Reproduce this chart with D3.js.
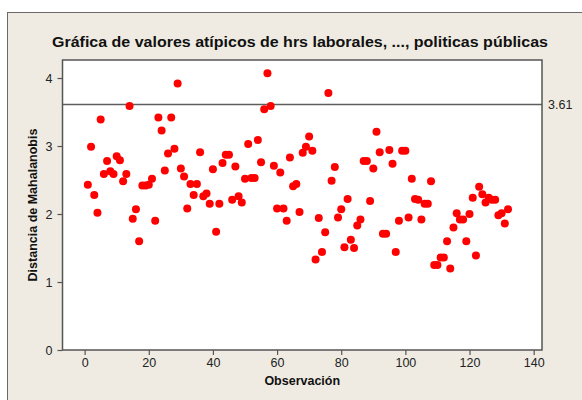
<!DOCTYPE html>
<html>
<head>
<meta charset="utf-8">
<script src="https://cdn.jsdelivr.net/npm/d3@7"></script>
<style>
  body { margin: 0; background: #fff; }
  svg { display: block; }
</style>
</head>
<body>
<div id="chart"></div>
<script>
const distances = [
  2.43, 2.99, 2.28, 2.02, 3.39, 2.59, 2.78, 2.63, 2.59, 2.85,
  2.79, 2.48, 2.59, 3.59, 1.93, 2.07, 1.60, 2.42, 2.42, 2.43,
  2.52, 1.90, 3.42, 3.23, 2.64, 2.89, 3.42, 2.96, 3.92, 2.67,
  2.55, 2.08, 2.44, 2.28, 2.44, 2.91, 2.26, 2.30, 2.15, 2.66,
  1.74, 2.15, 2.75, 2.87, 2.87, 2.21, 2.70, 2.26, 2.17, 2.52,
  3.03, 2.53, 2.53, 3.09, 2.76, 3.54, 4.07, 3.59, 2.71, 2.08,
  2.61, 2.08, 1.90, 2.83, 2.41, 2.44, 2.03, 2.90, 2.99, 3.14,
  2.93, 1.33, 1.94, 1.44, 1.73, 3.78, 2.49, 2.69, 1.95, 2.07,
  1.51, 2.22, 1.62, 1.50, 1.83, 1.92, 2.78, 2.78, 2.19, 2.67,
  3.21, 2.91, 1.71, 1.71, 2.94, 2.74, 1.44, 1.90, 2.93, 2.93,
  1.95, 2.52, 2.22, 2.21, 1.92, 2.15, 2.15, 2.48, 1.25, 1.25,
  1.36, 1.36, 1.60, 1.20, 1.80, 2.01, 1.92, 1.92, 1.60, 2.00,
  2.24, 1.39, 2.40, 2.29, 2.17, 2.24, 2.21, 2.21, 1.98, 2.01,
  1.86, 2.07
];
const observations = d3.range(1, distances.length + 1);
const xTicks = [0, 20, 40, 60, 80, 100, 120, 140];
const yTicks = [0, 1, 2, 3, 4];
const cutoff = 3.61;
const cutoffLabel = "3.61";

const title = "Gráfica de valores atípicos de hrs laborales, ..., politicas públicas";
const xTitle = "Observación";
const yTitle = "Distancia de Mahalanobis";

const width = 582, height = 400;
const plot = { left: 62.5, right: 542, top: 60, bottom: 350 };
const font = "Liberation Sans, Arial, sans-serif";

const svg = d3.select("#chart").append("svg")
  .attr("width", width)
  .attr("height", height);

// outer panel
svg.append("rect")
  .attr("x", 7.5).attr("y", 12.5)
  .attr("width", width).attr("height", height)
  .attr("fill", "#efebe2")
  .attr("stroke", "#6a6a6a")
  .attr("stroke-width", 1);

const x = d3.scaleLinear()
  .domain([-6.9, 142.6])
  .range([plot.left, plot.right]);

const y = d3.scaleLinear()
  .domain([0, 4.265])
  .range([plot.bottom, plot.top]);

// plot area
svg.append("rect")
  .attr("x", plot.left).attr("y", plot.top)
  .attr("width", plot.right - plot.left)
  .attr("height", plot.bottom - plot.top)
  .attr("fill", "#fff");

// reference line
svg.append("line")
  .attr("x1", plot.left).attr("x2", plot.right)
  .attr("y1", y(cutoff)).attr("y2", y(cutoff))
  .attr("stroke", "#5e5e5e")
  .attr("stroke-width", 1.5);

svg.append("text")
  .attr("x", plot.right + 6)
  .attr("y", y(cutoff))
  .attr("dy", "0.35em")
  .attr("font-family", font)
  .attr("font-size", 12.5)
  .attr("fill", "#222")
  .text(cutoffLabel);

// points
svg.append("g")
  .selectAll("circle")
  .data(distances)
  .enter()
  .append("circle")
  .attr("cx", (d, i) => x(observations[i]))
  .attr("cy", d => y(d))
  .attr("r", 4)
  .attr("fill", "#ff0000");

// frame
svg.append("rect")
  .attr("x", plot.left).attr("y", plot.top)
  .attr("width", plot.right - plot.left)
  .attr("height", plot.bottom - plot.top)
  .attr("fill", "none")
  .attr("stroke", "#555")
  .attr("stroke-width", 1.5);

// axes
const xAxis = svg.append("g")
  .attr("transform", `translate(0,${plot.bottom})`)
  .call(d3.axisBottom(x).tickValues(xTicks).tickFormat(d3.format("d")).tickSize(5).tickPadding(3));

const yAxis = svg.append("g")
  .attr("transform", `translate(${plot.left},0)`)
  .call(d3.axisLeft(y).tickValues(yTicks).tickFormat(d3.format("d")).tickSize(5).tickPadding(5));

[xAxis, yAxis].forEach(g => {
  g.select(".domain").remove();
  g.selectAll("line").attr("stroke", "#555").attr("stroke-width", 1.2);
  g.selectAll("text")
    .attr("font-family", font)
    .attr("font-size", 12.5)
    .attr("fill", "#222");
});

// titles
svg.append("text")
  .attr("x", 300)
  .attr("y", 47)
  .attr("text-anchor", "middle")
  .attr("font-family", font)
  .attr("font-weight", "bold")
  .attr("font-size", 15)
  .attr("textLength", 496)
  .attr("lengthAdjust", "spacingAndGlyphs")
  .attr("fill", "#111")
  .text(title);

svg.append("text")
  .attr("x", (plot.left + plot.right) / 2)
  .attr("y", 385)
  .attr("text-anchor", "middle")
  .attr("font-family", font)
  .attr("font-weight", "bold")
  .attr("font-size", 12.5)
  .attr("fill", "#111")
  .text(xTitle);

svg.append("text")
  .attr("transform", `translate(37,${(plot.top + plot.bottom) / 2}) rotate(-90)`)
  .attr("text-anchor", "middle")
  .attr("font-family", font)
  .attr("font-weight", "bold")
  .attr("font-size", 12.5)
  .attr("fill", "#111")
  .text(yTitle);
</script>
</body>
</html>
